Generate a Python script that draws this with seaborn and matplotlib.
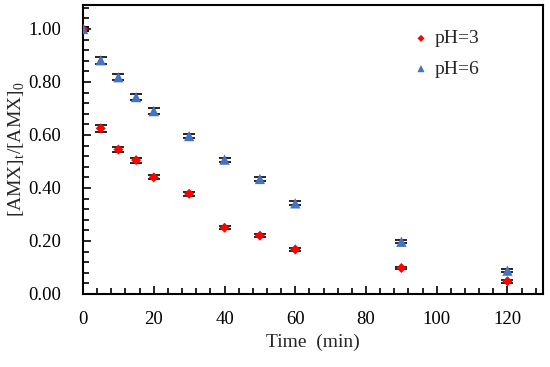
import matplotlib
matplotlib.use("Agg")
import matplotlib.pyplot as plt
import seaborn as sns
import pandas as pd
import numpy as np
from matplotlib.ticker import MultipleLocator

time = [0, 5, 10, 15, 20, 30, 40, 50, 60, 90, 120]
ph3 = [1.00, 0.625, 0.545, 0.505, 0.44, 0.378, 0.25, 0.22, 0.168, 0.098, 0.048]
ph3_err = [0.008, 0.012, 0.010, 0.010, 0.008, 0.008, 0.006, 0.006, 0.006, 0.005, 0.005]
ph6 = [1.00, 0.882, 0.818, 0.743, 0.690, 0.596, 0.507, 0.434, 0.342, 0.197, 0.088]
ph6_err = [0.008, 0.013, 0.012, 0.011, 0.010, 0.009, 0.008, 0.007, 0.007, 0.006, 0.005]
labels = ["pH=3", "pH=6"]

sns.set_style("ticks")
plt.rcParams['font.family'] = ['Liberation Serif', 'DejaVu Serif']
plt.rcParams['mathtext.fontset'] = 'custom'
plt.rcParams['mathtext.rm'] = 'Liberation Serif'

df = pd.DataFrame({
    "Time": time * 2,
    "C": ph3 + ph6,
    "err": ph3_err + ph6_err,
    "pH": [labels[0]] * len(time) + [labels[1]] * len(time),
})

fig = plt.figure(figsize=(5.5, 3.67), dpi=100)
ax = fig.add_axes([0.151, 0.199, 0.836, 0.787])

colors = {"pH=3": "#FF0000", "pH=6": "#4472C4"}
markers = {"pH=3": "D", "pH=6": "^"}
sizes = {"pH=3": 26, "pH=6": 55}
for lab in labels:
    d = df[df.pH == lab]
    ax.errorbar(d.Time, d.C, yerr=d.err, fmt='none', ecolor='black',
                elinewidth=1.0, capsize=4, capthick=1.2, zorder=2)
for lab in labels:
    d = df[df.pH == lab]
    sns.scatterplot(data=d, x="Time", y="C", color=colors[lab], marker=markers[lab],
                    s=sizes[lab], edgecolor='none', ax=ax, zorder=3, label=lab)

ax.set_xlim(0, 130)
ax.set_ylim(0, 1.09)
ax.xaxis.set_major_locator(MultipleLocator(20))
ax.xaxis.set_minor_locator(MultipleLocator(4))
ax.yaxis.set_major_locator(MultipleLocator(0.2))
ax.yaxis.set_minor_locator(MultipleLocator(0.04))
ax.yaxis.set_major_formatter(matplotlib.ticker.FormatStrFormatter('%.2f'))
ax.tick_params(which='both', direction='in', width=1.2, colors='black')
ax.tick_params(which='major', length=6)
ax.tick_params(which='minor', length=4)
ax.tick_params(axis='x', which='major', pad=12, labelsize=13.5)
ax.tick_params(axis='y', which='major', pad=16, labelsize=13.5)
for sp in ax.spines.values():
    sp.set_linewidth(1.5)
    sp.set_color('black')

ax.set_xlabel("Time  (min)", fontsize=14)
ax.set_ylabel("[AMX]$_\\mathrm{t}$/[AMX]$_0$", fontsize=14, labelpad=1)

leg = ax.legend(loc='upper left', bbox_to_anchor=(0.68, 0.975), frameon=False,
                fontsize=14, labelspacing=0.65, handletextpad=0.3, handlelength=0.8,
                markerscale=0.7)

fig.savefig("out.png", dpi=100)
